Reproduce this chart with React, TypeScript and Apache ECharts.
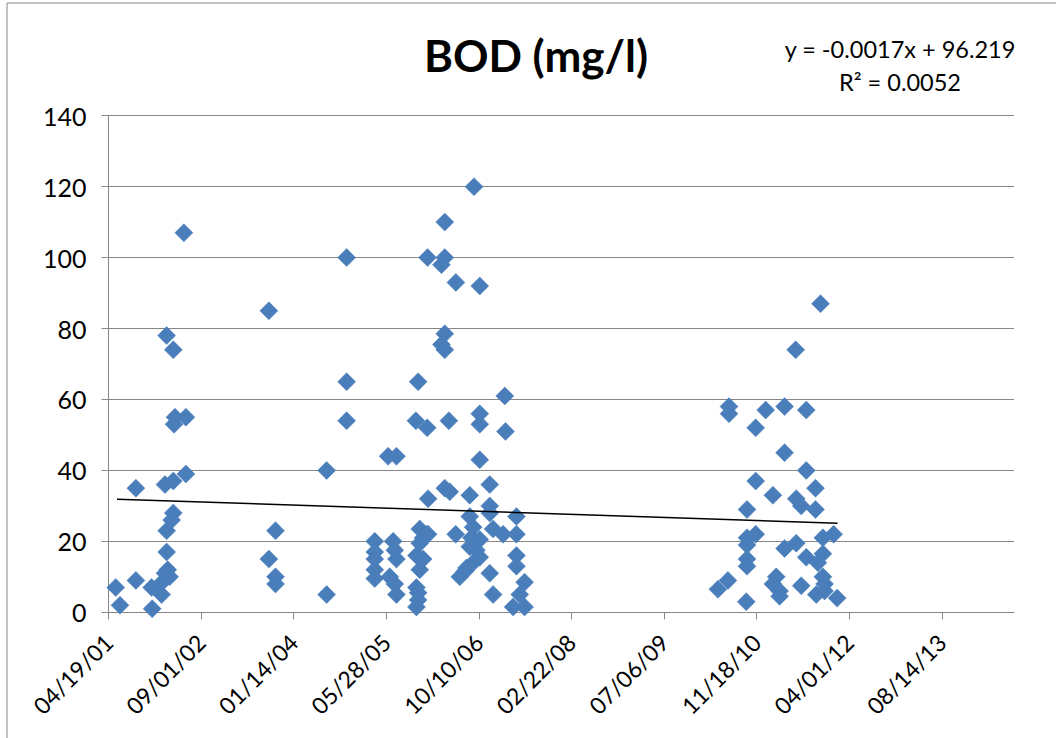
import React, { useEffect, useRef } from "react";
import * as echarts from "echarts";

// Excel date serials (days) and BOD values (mg/l)
const sampleDates: number[] = [
  // 2001-2002
  37039, 37062, 37148, 37148, 37233, 37236, 37280, 37287, 37305, 37320, 37330, 37314,
  37314, 37341, 37350, 37305, 37350, 37418, 37354, 37359, 37418, 37314, 37350, 37407,
  // 2003-2004
  37866, 37902, 37866, 37902, 37902, 38178, 38178, 38286, 38286, 38286,
  // 2005
  38438, 38438, 38438, 38438, 38438, 38510, 38555, 38519, 38537, 38546, 38555, 38546,
  38555, 38663, 38663, 38663, 38672, 38672, 38681, 38681, 38681, 38699, 38717, 38672,
  38660, 38721, 38723, 38726, 38726, 38699,
  // 2006-2007
  38798, 38816, 38816, 38876, 39005, 38816, 38798, 38816, 38838, 39005, 39005, 39140,
  39144, 38974, 39005, 38816, 38843, 38951, 39059, 39059, 39059, 38951, 39203, 38875,
  38969, 39077, 39131, 39203, 39005, 38987, 39005, 39203, 38969, 39203, 38924, 39059,
  38897, 39247, 39077, 39221, 39185, 39247, 38933, 38951, 38960,
  // 2010-2011
  40291, 40345, 40351, 40351, 40444, 40448, 40448, 40448, 40448, 40448, 40495, 40495,
  40495, 40549, 40588, 40588, 40606, 40624, 40624, 40651, 40651, 40651, 40714, 40714,
  40741, 40741, 40711, 40768, 40768, 40768, 40818, 40818, 40831, 40845, 40858, 40858,
  40858, 40867, 40822, 40867, 40916, 40935,
];

const bodValues: number[] = [
  // 2001-2002
  7, 2, 35, 9, 7, 1, 8, 5, 11, 12, 10, 17,
  23, 26, 28, 36, 37, 39, 53, 55, 55, 78, 74, 107,
  // 2003-2004
  85, 23, 15, 10, 8, 40, 5, 100, 65, 54,
  // 2005
  20, 17, 15, 12, 9.5, 44, 44, 10, 20, 17.5, 15, 8,
  5, 16, 7, 1.5, 5.5, 3.5, 19.5, 12, 23.5, 15, 22, 65,
  54, 52, 100, 32, 22, 21,
  // 2006-2007
  98, 100, 110, 93, 92, 78.5, 75.5, 74, 54, 56, 53, 61,
  51, 120, 43, 35, 34, 33, 36, 30, 28, 27, 27, 22,
  24, 23.5, 22, 22, 20.5, 17.5, 15.5, 16, 14, 13, 11.5, 11,
  10, 8.5, 5, 5, 1.5, 1.5, 12.5, 18.5, 21,
  // 2010-2011
  6.5, 9, 58, 56, 3, 29, 21, 19, 15, 13, 52, 37,
  22, 57, 33, 8, 10, 6, 4.5, 58, 45, 18, 32, 19.5,
  30, 7.5, 74, 57, 40, 15.5, 35, 29, 14, 87, 21, 16.5,
  10, 8, 5, 6, 22, 4,
];

// Linear trendline endpoints (as drawn)
const trendDates: number[] = [37046, 40937];
const trendValues: number[] = [31.9, 25.1];

// Axis ticks
const xTickValues: number[] = [37000, 37500, 38000, 38500, 39000, 39500, 40000, 40500, 41000, 41500];

const titleText = "BOD (mg/l)";
const equationText = "y = -0.0017x + 96.219";
const r2Text = "R² = 0.0052";

const FONT = "Lato, 'Open Sans', sans-serif";

function serialToLabel(v: number): string {
  const d = new Date(Date.UTC(1899, 11, 30) + Math.round(v) * 86400000);
  const mm = String(d.getUTCMonth() + 1).padStart(2, "0");
  const dd = String(d.getUTCDate()).padStart(2, "0");
  const yy = String(d.getUTCFullYear() % 100).padStart(2, "0");
  return `${mm}/${dd}/${yy}`;
}

export default function App() {
  const ref = useRef<HTMLDivElement>(null);
  useEffect(() => {
    if (!ref.current) return;
    const chart = echarts.init(ref.current, undefined, { renderer: "svg" });
    const points = sampleDates.map((d, i) => [d, bodValues[i]]);
    const trend = trendDates.map((d, i) => [d, trendValues[i]]);
    chart.setOption({
      animation: false,
      backgroundColor: "#ffffff",
      grid: { left: 108.5, right: 42, top: 115.7, bottom: 125.7, containLabel: false },
      xAxis: {
        type: "value",
        min: 37000,
        max: 41890,
        interval: 500,
        axisLine: { show: true, lineStyle: { color: "#868686", width: 1 } },
        axisTick: { show: true, length: 7, customValues: xTickValues, lineStyle: { color: "#868686" } },
        splitLine: { show: false },
        axisLabel: {
          customValues: xTickValues,
          rotate: 45,
          margin: 26,
          color: "#000",
          fontFamily: FONT,
          fontSize: 23,
          formatter: (v: number) => serialToLabel(v),
        },
      },
      yAxis: {
        type: "value",
        min: 0,
        max: 140,
        interval: 20,
        axisLine: { show: true, lineStyle: { color: "#868686", width: 1 } },
        axisTick: { show: true, length: 7, lineStyle: { color: "#868686" } },
        splitLine: { show: true, lineStyle: { color: "#868686", width: 1 } },
        axisLabel: { color: "#000", fontFamily: FONT, fontSize: 25, margin: 22 },
      },
      series: [
        {
          type: "scatter",
          data: points,
          symbol: "diamond",
          symbolSize: 18,
          itemStyle: { color: "#4A7EBB", opacity: 1, borderColor: "#4A7EBB", borderWidth: 0.5 },
          z: 2,
        },
        {
          type: "line",
          data: trend,
          symbol: "none",
          lineStyle: { color: "#000", width: 1.5 },
          z: 3,
        },
      ],
      graphic: [
        {
          type: "rect",
          shape: { x: 7, y: 3, width: 1200, height: 900 },
          style: { fill: "none", stroke: "#868686", lineWidth: 1 },
          silent: true,
        },
        {
          type: "text",
          x: 536,
          y: 55,
          style: {
            text: titleText,
            fontFamily: FONT,
            fontWeight: "bold",
            fontSize: 44,
            fill: "#000",
            align: "center",
            verticalAlign: "middle",
          },
        },
        {
          type: "text",
          x: 900,
          y: 49,
          style: {
            text: equationText,
            fontFamily: FONT,
            fontSize: 23.5,
            fill: "#000",
            align: "center",
            verticalAlign: "middle",
          },
        },
        {
          type: "text",
          x: 900,
          y: 82,
          style: {
            text: r2Text,
            fontFamily: FONT,
            fontSize: 23.5,
            fill: "#000",
            align: "center",
            verticalAlign: "middle",
          },
        },
      ],
    });
    return () => chart.dispose();
  }, []);
  return (
    <div
      ref={ref}
      style={{ position: "fixed", left: 0, top: 0, width: 1056, height: 738, background: "#fff" }}
    />
  );
}
